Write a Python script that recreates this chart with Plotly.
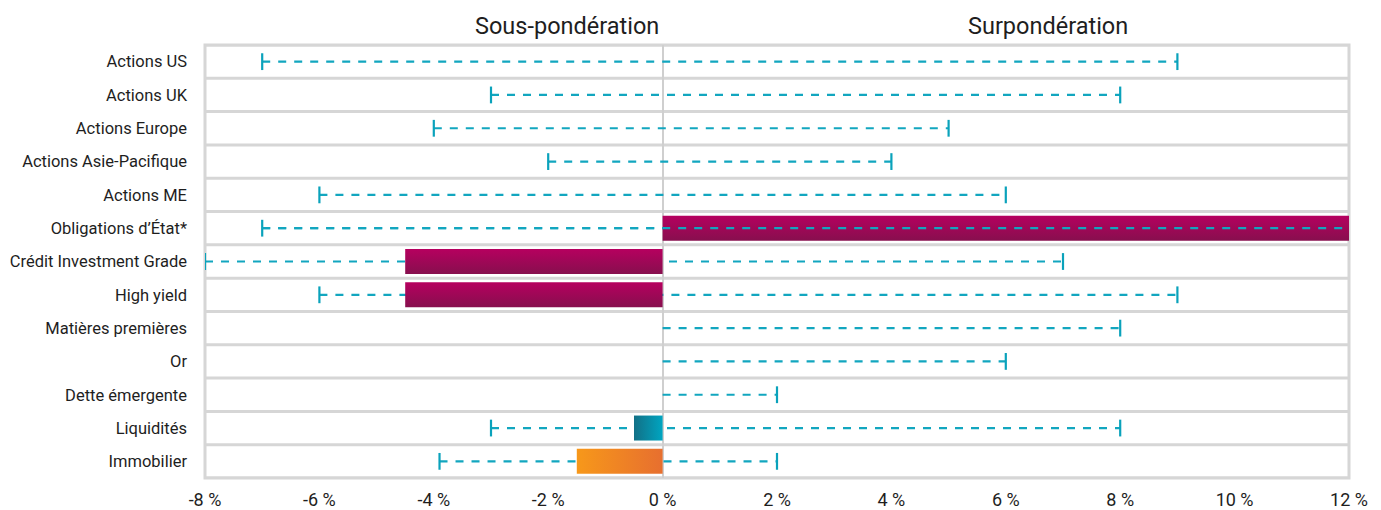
import plotly.graph_objects as go

# ---------------- data ----------------
categories = [
    "Actions US", "Actions UK", "Actions Europe", "Actions Asie-Pacifique",
    "Actions ME", "Obligations d’État*", "Crédit Investment Grade", "High yield",
    "Matières premières", "Or", "Dette émergente", "Liquidités", "Immobilier",
]
positions = [0, 0, 0, 0, 0, 12, -4.5, -4.5, 0, 0, 0, -0.5, -1.5]
range_min = [-7, -3, -4, -2, -6, -7, -8, -6, 0, 0, 0, -3, -3.9]
range_max = [9, 8, 5, 4, 6, 12, 7, 9, 8, 6, 2, 8, 2]
tick_values = [-8, -6, -4, -2, 0, 2, 4, 6, 8, 10, 12]
tick_labels = ["-8 %", "-6 %", "-4 %", "-2 %", "0 %", "2 %", "4 %", "6 %", "8 %", "10 %", "12 %"]
header_left = "Sous-pondération"
header_right = "Surpondération"

# ---------------- styles ----------------
FONT = "Roboto, 'Liberation Sans Narrow', sans-serif"
TEXT = "#1e1e1e"
GRID = "#d6d6d6"
TEAL = "#12a6bf"
BAR_H = 0.75
MAGENTA = [[0, "#b6005f"], [1, "#870f4e"]]
gradients = {
    "Obligations d’État*": ("vertical", MAGENTA),
    "Crédit Investment Grade": ("vertical", MAGENTA),
    "High yield": ("vertical", MAGENTA),
    "Liquidités": ("horizontal", [[0, "#127086"], [1, "#00a5c1"]]),
    "Immobilier": ("horizontal", [[0, "#f7981a"], [1, "#e76f2f"]]),
}
dash_on_top = {"Obligations d’État*"}

fig = go.Figure()


def range_trace(idx_list):
    xs, ys = [], []
    for i in idx_list:
        xs += [range_min[i], range_max[i], None]
        ys += [i, i, None]
    return go.Scatter(x=xs, y=ys, mode="lines",
                      line=dict(color=TEAL, width=2.2, dash="8px,8px"),
                      hoverinfo="skip", showlegend=False)


idx_all = list(range(len(categories)))
fig.add_trace(range_trace(idx_all))

# caps
cap_x, cap_y = [], []
for i in idx_all:
    for v in (range_min[i], range_max[i]):
        if v != 0:
            cap_x.append(v)
            cap_y.append(i)
fig.add_trace(go.Scatter(x=cap_x, y=cap_y, mode="markers",
                         marker=dict(symbol="line-ns", size=12,
                                     line=dict(color="#0aa2bb", width=2.2)),
                         hoverinfo="skip", showlegend=False))

# bars (gradient filled)
for i, cat in enumerate(categories):
    v = positions[i]
    if v == 0:
        continue
    y0, y1 = i - BAR_H / 2, i + BAR_H / 2
    gtype, cscale = gradients[cat]
    if gtype == "vertical":
        grad = dict(type="vertical", colorscale=cscale, start=y0, stop=y1)
    else:
        grad = dict(type="horizontal", colorscale=cscale, start=min(0, v), stop=max(0, v))
    fig.add_trace(go.Scatter(
        x=[0, v, v, 0, 0], y=[y0, y0, y1, y1, y0], mode="lines",
        fill="toself", fillgradient=grad, line=dict(width=0),
        hoverinfo="skip", showlegend=False))

fig.add_trace(range_trace([i for i, c in enumerate(categories) if c in dash_on_top]))

# row separators
shapes = []
for k in range(len(categories) + 1):
    shapes.append(dict(type="line", xref="paper", yref="y", x0=0, x1=1,
                       y0=k - 0.5, y1=k - 0.5, line=dict(color=GRID, width=3),
                       layer="below"))
shapes.append(dict(type="rect", xref="paper", yref="paper", x0=0, x1=1, y0=0, y1=1,
                   line=dict(color=GRID, width=3), layer="below"))

fig.update_layout(
    width=1373, height=502,
    margin=dict(l=197, r=32, t=37, b=32),
    paper_bgcolor="white", plot_bgcolor="white",
    font=dict(family=FONT, color=TEXT, size=16),
    shapes=shapes,
    annotations=[
        dict(text=header_left, xref="paper", yref="paper", x=0.3164, y=1,
             xanchor="center", yanchor="bottom", yshift=3, showarrow=False,
             font=dict(size=23.5, family=FONT, color=TEXT)),
        dict(text=header_right, xref="paper", yref="paper", x=0.737, y=1,
             xanchor="center", yanchor="bottom", yshift=3, showarrow=False,
             font=dict(size=23.5, family=FONT, color=TEXT)),
    ],
)
fig.update_xaxes(range=[-8, 12], tickvals=tick_values, ticktext=tick_labels,
                 showgrid=False, zeroline=True, zerolinecolor="#cfcfcf", zerolinewidth=2,
                 showline=False, ticks="", tickfont=dict(size=18),
                 ticklabelstandoff=9, automargin=False, fixedrange=True)
fig.update_yaxes(range=[len(categories) - 0.5, -0.5], tickvals=idx_all, ticktext=categories,
                 showgrid=False, zeroline=False, showline=False, ticks="",
                 ticklabelstandoff=17, tickfont=dict(size=16.5), automargin=False,
                 fixedrange=True)

fig.write_html("out.html")
